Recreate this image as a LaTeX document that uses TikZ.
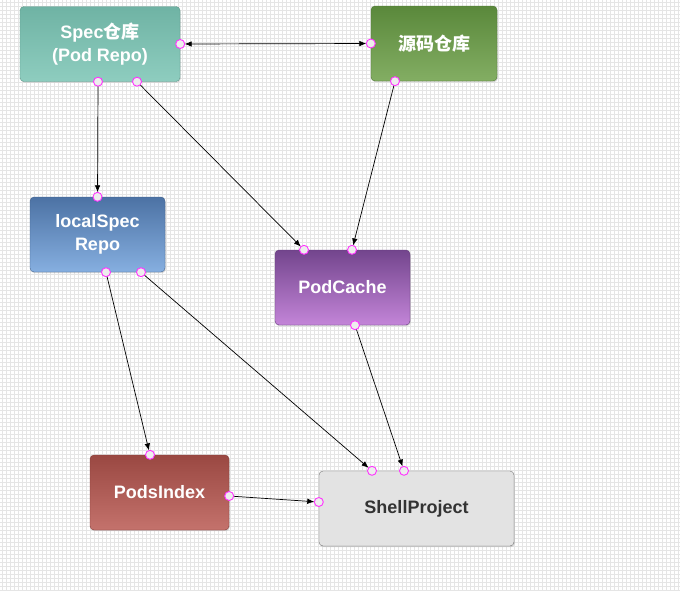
\documentclass[tikz,border=0pt]{standalone}
\usepackage{fontspec}
\setmainfont{Liberation Sans}
\newfontfamily\cjk{Noto Sans CJK SC}
\usepackage{xcolor}
\usepackage{tikz}
\usetikzlibrary{arrows.meta, positioning, shadows, calc}

\definecolor{specTop}{HTML}{6FB3A4}
\definecolor{specBot}{HTML}{8ECDBF}
\definecolor{srcTop}{HTML}{5A883B}
\definecolor{srcBot}{HTML}{83AE63}
\definecolor{localTop}{HTML}{4C72A4}
\definecolor{localBot}{HTML}{86AFE0}
\definecolor{cacheTop}{HTML}{73458D}
\definecolor{cacheBot}{HTML}{C385D8}
\definecolor{indexTop}{HTML}{9A4842}
\definecolor{indexBot}{HTML}{C4726C}
\definecolor{shellFill}{HTML}{E3E3E3}
\definecolor{portPink}{HTML}{FF33FF}

\tikzset{
  gridline/.style={draw=black!10, line width=0.6pt},
  box/.style={rounded corners=4pt, minimum height=75, inner sep=2pt,
    align=center, font=\bfseries\fontsize{18}{23}\selectfont, text=white,
    drop shadow={opacity=0.25, shadow xshift=0.8pt, shadow yshift=-1.2pt}},
  link/.style={draw=black, line width=0.7pt, shorten >=4.5pt,
    -{Latex[length=7pt, width=5.5pt]}},
  port/.style={draw=portPink, fill=black!7, line width=0.9pt}
}
\newcommand\portmark[1]{\draw[port] (#1) circle (4.5pt);}

\begin{document}
\begin{tikzpicture}[x=1pt, y=-1pt]
\useasboundingbox (0,0) rectangle (680,590);
% background grid
\fill[white] (0,0) rectangle (680,590);
\foreach \gx in {2,6,...,680} \draw[gridline] (\gx,0) -- (\gx,590);
\foreach \gy in {2,6,...,590} \draw[gridline] (0,\gy) -- (680,\gy);

% boxes
\node[box, minimum width=160, top color=specTop, bottom color=specBot, draw=specTop!85!black]
  (spec) at (100,44) {Spec{\cjk 仓库}\\(Pod Repo)};
\node[box, minimum width=126, top color=srcTop, bottom color=srcBot, draw=srcTop!85!black]
  (src) at (434,43.5) {\cjk 源码仓库};
\node[box, minimum width=135, top color=localTop, bottom color=localBot, draw=localTop!85!black]
  (local) at (97.5,234.5) {localSpec\\Repo};
\node[box, minimum width=135, top color=cacheTop, bottom color=cacheBot, draw=cacheTop!85!black]
  (cache) at (342.5,287.5) {PodCache};
\node[box, minimum width=139, top color=indexTop, bottom color=indexBot, draw=indexTop!85!black]
  (index) at (159.5,492.5) {PodsIndex};
\node[box, minimum width=195, fill=shellFill, draw=black!55, text=black!80]
  (shell) at (416.5,508.5) {ShellProject};

% ports
\coordinate (specE) at (spec.east);
\coordinate (specS1) at ([xshift=-2pt]spec.south);
\coordinate (specS2) at ([xshift=37pt]spec.south);
\coordinate (srcW) at (src.west);
\coordinate (srcS) at ([xshift=-39pt]src.south);
\coordinate (localN) at (local.north);
\coordinate (localS1) at ([xshift=8.5pt]local.south);
\coordinate (localS2) at ([xshift=43.5pt]local.south);
\coordinate (cacheN1) at ([xshift=-38.5pt]cache.north);
\coordinate (cacheN2) at ([xshift=9.5pt]cache.north);
\coordinate (cacheS) at ([xshift=12.5pt]cache.south);
\coordinate (indexN) at ([xshift=-9.5pt]index.north);
\coordinate (indexE) at ([yshift=-3.5pt]index.east);
\coordinate (shellN1) at ([xshift=-44.5pt]shell.north);
\coordinate (shellN2) at ([xshift=-12.5pt]shell.north);
\coordinate (shellW) at ([yshift=6.5pt]shell.west);

% connectors
\draw[link, shorten <=4.5pt, {Latex[length=7pt, width=5.5pt]}-{Latex[length=7pt, width=5.5pt]}] (specE) -- (srcW);
\draw[link] (specS1) -- (localN);
\draw[link] (specS2) -- (cacheN1);
\draw[link] (srcS) -- (cacheN2);
\draw[link] (localS1) -- (indexN);
\draw[link] (localS2) -- (shellN1);
\draw[link] (cacheS) -- (shellN2);
\draw[link] (indexE) -- (shellW);

\foreach \p in {specE,specS1,specS2,srcW,srcS,localN,localS1,localS2,
  cacheN1,cacheN2,cacheS,indexN,indexE,shellN1,shellN2,shellW}
  {\portmark{\p}}
\end{tikzpicture}
\end{document}
